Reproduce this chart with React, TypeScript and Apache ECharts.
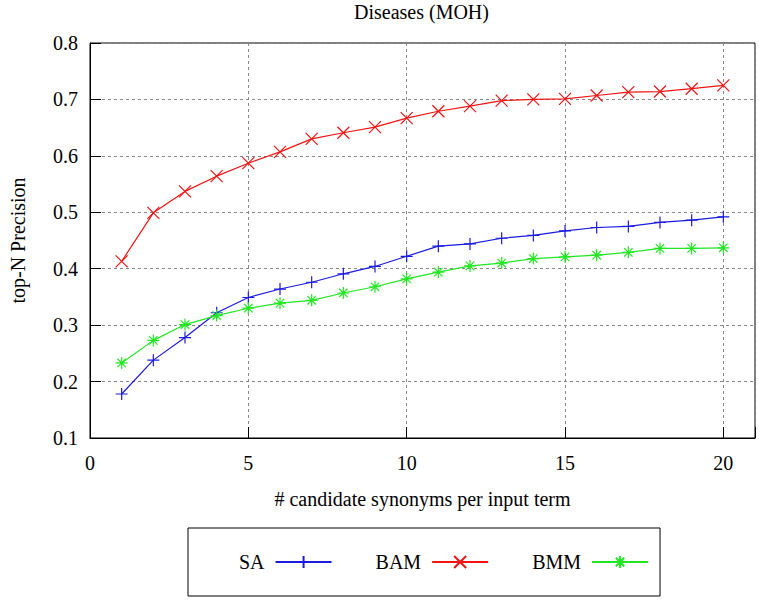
import React, { useEffect, useRef } from "react";
import * as echarts from "echarts";

const titleText = "Diseases (MOH)";
const xAxisName = "# candidate synonyms per input term";
const yAxisName = "top-N Precision";
const xValues = [1, 2, 3, 4, 5, 6, 7, 8, 9, 10, 11, 12, 13, 14, 15, 16, 17, 18, 19, 20];
const saValues = [0.178, 0.238, 0.278, 0.322, 0.349, 0.364, 0.376, 0.391, 0.404, 0.422, 0.440, 0.444, 0.454, 0.459, 0.467, 0.473, 0.475, 0.482, 0.486, 0.492];
const bamValues = [0.413, 0.499, 0.537, 0.564, 0.587, 0.607, 0.630, 0.641, 0.651, 0.667, 0.679, 0.688, 0.698, 0.700, 0.701, 0.707, 0.713, 0.714, 0.719, 0.725];
const bmmValues = [0.233, 0.273, 0.301, 0.317, 0.330, 0.339, 0.344, 0.357, 0.368, 0.382, 0.394, 0.405, 0.410, 0.418, 0.421, 0.424, 0.429, 0.436, 0.436, 0.437];
const seriesNames = ["SA", "BAM", "BMM"];
const seriesColors = ["#1a1ae0", "#f01414", "#22e622"];

const PLUS = "path://M0,5 L10,5 M5,0 L5,10";
const CROSS = "path://M0,0 L10,10 M10,0 L0,10";
const STAR = "path://M0,5 L10,5 M5,0 L5,10 M1.5,1.5 L8.5,8.5 M8.5,1.5 L1.5,8.5";
const symbols = [PLUS, CROSS, STAR];

const FONT = "'Liberation Serif', 'DejaVu Serif', serif";

export default function App() {
  const ref = useRef<HTMLDivElement>(null);
  useEffect(() => {
    if (!ref.current) return;
    document.body.style.margin = "0";
    document.body.style.overflow = "hidden";
    const chart = echarts.init(ref.current, null, { renderer: "svg" });
    const valueSets = [saValues, bamValues, bmmValues];
    const series = valueSets.map((vals, i) => ({
      name: seriesNames[i],
      type: "line",
      data: xValues.map((x, j) => [x, vals[j]]),
      symbol: symbols[i],
      symbolSize: 12,
      showAllSymbol: true,
      lineStyle: { color: seriesColors[i], width: 1.2 },
      itemStyle: { color: seriesColors[i], borderColor: seriesColors[i], borderWidth: 1.2 },
      emphasis: { disabled: true },
    }));
    chart.setOption({
      animation: false,
      backgroundColor: "#ffffff",
      textStyle: { fontFamily: FONT, color: "#000" },
      title: {
        text: titleText,
        left: 354,
        top: 2,
        padding: 0,
        textStyle: { fontFamily: FONT, fontSize: 20, fontWeight: "normal", color: "#000", lineHeight: 20 },
      },
      grid: {
        left: 86,
        right: 4,
        top: 43,
        bottom: 164,
        show: true,
        borderColor: "#000",
        borderWidth: 1,
        backgroundColor: "transparent",
      },
      xAxis: {
        type: "value",
        min: 0,
        max: 21,
        interval: 5,
        name: xAxisName,
        nameLocation: "middle",
        nameGap: 51,
        nameTextStyle: { fontFamily: FONT, fontSize: 20, color: "#000" },
        axisLine: { show: true, lineStyle: { color: "#000", width: 1 } },
        axisTick: { show: true, inside: true, length: 11, lineStyle: { color: "#000" } },
        axisLabel: {
          fontFamily: FONT,
          fontSize: 20,
          color: "#000",
          margin: 15,
          formatter: (v: number) => (v % 5 === 0 ? String(v) : ""),
        },
        splitLine: { show: true, lineStyle: { color: "#888", width: 1, type: [3, 3] } },
      },
      yAxis: {
        type: "value",
        min: 0.1,
        max: 0.8,
        interval: 0.1,
        name: yAxisName,
        nameLocation: "middle",
        nameRotate: 90,
        nameGap: 62,
        nameTextStyle: { fontFamily: FONT, fontSize: 20, color: "#000" },
        axisLine: { show: true, lineStyle: { color: "#000", width: 1 } },
        axisTick: { show: true, inside: true, length: 11, lineStyle: { color: "#000" } },
        axisLabel: {
          fontFamily: FONT,
          fontSize: 20,
          color: "#000",
          margin: 12,
          formatter: (v: number) => v.toFixed(1),
        },
        splitLine: { show: true, lineStyle: { color: "#888", width: 1, type: [3, 3] } },
      },
      legend: {
        data: seriesNames,
        left: 188,
        top: 528,
        orient: "horizontal",
        align: "right",
        itemWidth: 56,
        itemHeight: 15,
        itemGap: 43,
        padding: [24, 11, 24, 51],
        borderColor: "#000",
        borderWidth: 1,
        backgroundColor: "#fff",
        selectedMode: false,
        formatter: "{a|{name}}",
        textStyle: {
          fontFamily: FONT,
          fontSize: 20,
          color: "#000",
          lineHeight: 20,
          rich: { a: { fontFamily: FONT, fontSize: 20, lineHeight: 20, color: "#000", padding: [0, 6, 0, 0] } },
        },
      },
      series,
    });
    return () => chart.dispose();
  }, []);
  return <div ref={ref} style={{ position: "absolute", left: 0, top: 0, width: 759, height: 602 }} />;
}
